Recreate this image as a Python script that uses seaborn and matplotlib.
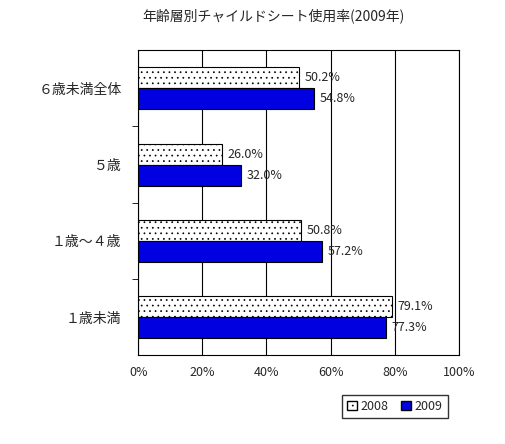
import pandas as pd
import matplotlib
matplotlib.use("Agg")
import matplotlib.pyplot as plt
import seaborn as sns
from matplotlib.ticker import FixedLocator
from matplotlib.patches import Patch

categories = ["６歳未満全体", "５歳", "１歳～４歳", "１歳未満"]
years = ["2008", "2009"]
v2008 = [50.2, 26.0, 50.8, 79.1]
v2009 = [54.8, 32.0, 57.2, 77.3]

df = pd.DataFrame({
    "cat": categories * 2,
    "year": ["2008"] * 4 + ["2009"] * 4,
    "val": v2008 + v2009,
})

sns.set_style("white")
plt.rcParams['font.family'] = ['Noto Sans CJK JP', 'DejaVu Sans']
plt.rcParams['hatch.linewidth'] = 0.5

fig = plt.figure(figsize=(5.06, 4.44), dpi=100)
ax = fig.add_axes([0.273, 0.2, 0.634, 0.687])
sns.barplot(data=df, y="cat", x="val", hue="year", orient="h",
            palette=["white", "#0000E0"], saturation=1, width=0.55, ax=ax,
            edgecolor="black", linewidth=0.8, legend=False)
for p in ax.containers[0]:
    p.set_hatch("...")
    p.set_edgecolor("black")

for cont, vals in zip(ax.containers, [v2008, v2009]):
    ax.bar_label(cont, labels=[f"{v:.1f}%" for v in vals], padding=4, fontsize=9)

ax.set_xlim(0, 100)
ax.set_xticks(range(0, 101, 20))
ax.set_xticklabels([f"{x}%" for x in range(0, 101, 20)], fontsize=9)
ax.xaxis.grid(True, color="black", linewidth=0.8)
ax.set_axisbelow(True)
ax.yaxis.set_minor_locator(FixedLocator([0.5, 1.5, 2.5]))
ax.tick_params(axis="y", which="minor", length=4, left=True, color="black")
ax.tick_params(axis="y", which="major", length=0, labelsize=10, pad=12)
ax.tick_params(axis="x", length=0, pad=8)
for s in ax.spines.values():
    s.set_color("black")
    s.set_linewidth(0.8)
ax.set_xlabel("")
ax.set_ylabel("")
fig.text(0.54, 0.955, "年齢層別チャイルドシート使用率(2009年)", ha="center", fontsize=10)

handles = [Patch(facecolor="white", edgecolor="black", hatch="..."),
           Patch(facecolor="#0000E0", edgecolor="black")]
fig.legend(handles, years, loc="center", bbox_to_anchor=(0.78, 0.085), ncol=2,
           frameon=True, fancybox=False, edgecolor="black", fontsize=9,
           handlelength=0.8, handleheight=0.8, handletextpad=0.3, columnspacing=1.0)
fig.savefig("out.png", dpi=100, facecolor="white")
